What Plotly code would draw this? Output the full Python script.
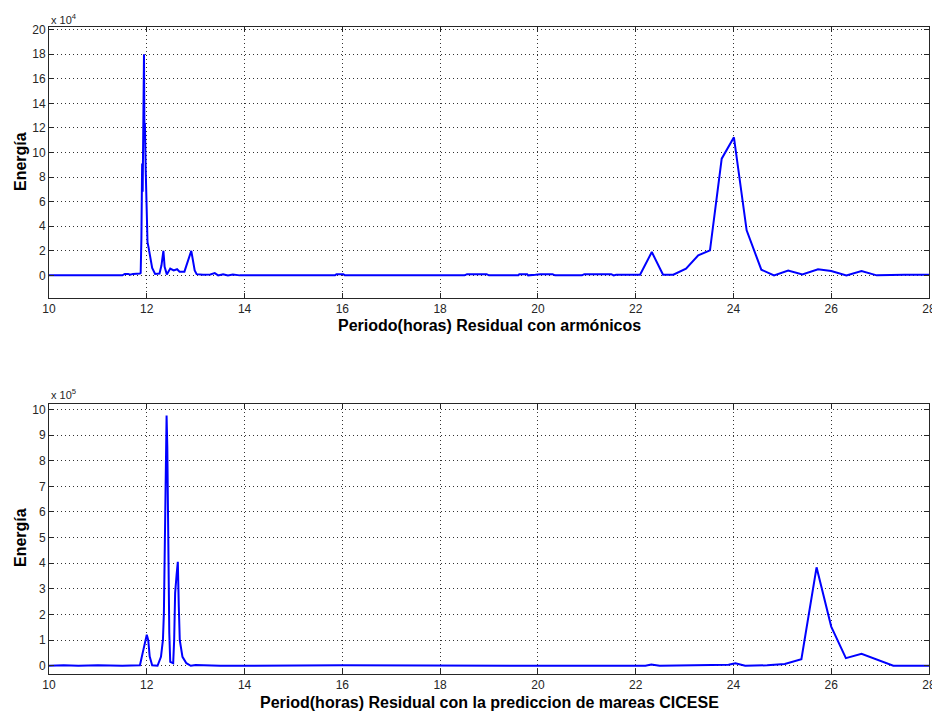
import plotly.graph_objects as go
from plotly.subplots import make_subplots

# Top panel: residual with harmonics (energy in units of 1e4)
top_period = [10.0, 11.5, 11.55, 11.62, 11.66, 11.72, 11.86, 11.875, 11.89, 11.905,
              11.916, 11.925, 11.932, 11.943, 11.952, 11.962, 11.978, 11.995, 12.015, 12.04,
              12.07, 12.11, 12.17, 12.26, 12.3, 12.34, 12.365, 12.41, 12.48, 12.55,
              12.62, 12.67, 12.77, 12.84, 12.91, 12.98, 13.02, 13.15, 13.3, 13.39,
              13.46, 13.56, 13.66, 13.76, 13.9, 15.85, 15.88, 16.02, 16.05, 18.5,
              18.55, 18.95, 19.0, 19.6, 19.62, 19.78, 19.8, 19.95, 20.05, 20.3,
              20.35, 20.9, 20.95, 21.5, 21.55, 21.6, 22.0, 22.09, 22.33, 22.56,
              22.77, 23.03, 23.28, 23.52, 23.76, 24.01, 24.27, 24.57, 24.83, 25.12,
              25.41, 25.73, 26.0, 26.31, 26.62, 26.93, 27.5, 28.0]
top_energy = [0.0, 0.0, 0.12, 0.12, 0.05, 0.12, 0.15, 0.2, 3.0, 9.1,
              6.8, 15.0, 11.5, 18.0, 11.6, 12.4, 8.6, 4.8, 2.7, 2.2,
              1.4, 0.6, 0.12, 0.15, 0.8, 2.0, 0.7, 0.08, 0.55, 0.4,
              0.5, 0.3, 0.3, 1.2, 2.0, 0.4, 0.1, 0.05, 0.08, 0.18,
              0.0, 0.08, 0.0, 0.06, 0.0, 0.0, 0.1, 0.1, 0.0, 0.0,
              0.1, 0.1, 0.0, 0.0, 0.1, 0.1, 0.0, 0.05, 0.1, 0.1,
              0.0, 0.0, 0.1, 0.1, 0.0, 0.05, 0.05, 0.05, 1.9, 0.05,
              0.05, 0.55, 1.63, 2.04, 9.5, 11.24, 3.67, 0.46, 0.0, 0.4,
              0.07, 0.5, 0.35, 0.0, 0.35, 0.0, 0.05, 0.05]

# Bottom panel: residual with CICESE tide prediction (energy in units of 1e5)
bot_period = [10.0, 10.3, 10.6, 11.0, 11.5, 11.86, 11.93, 12.0, 12.03, 12.06,
              12.11, 12.22, 12.29, 12.33, 12.35, 12.37, 12.385, 12.405, 12.42, 12.43,
              12.445, 12.46, 12.48, 12.54, 12.56, 12.58, 12.61, 12.635, 12.655, 12.675,
              12.73, 12.81, 12.9, 13.0, 13.5, 16.0, 20.0, 22.2, 22.32, 22.49,
              23.9, 24.04, 24.24, 24.69, 25.05, 25.39, 25.70, 26.0, 26.3, 26.62,
              27.27, 28.0]
bot_energy = [0.0, 0.02, 0.0, 0.02, 0.0, 0.02, 0.62, 1.21, 1.0, 0.36,
              0.02, 0.0, 0.35, 1.0, 2.05, 5.1, 8.15, 9.76, 8.54, 6.15,
              3.74, 1.3, 0.15, 0.1, 1.0, 2.84, 3.55, 4.06, 2.31, 1.0,
              0.35, 0.1, 0.0, 0.03, 0.0, 0.02, 0.0, 0.0, 0.05, 0.0,
              0.04, 0.1, 0.0, 0.02, 0.07, 0.26, 3.84, 1.53, 0.3, 0.47,
              0.0, 0.0]

x_ticks = [10, 12, 14, 16, 18, 20, 22, 24, 26, 28]
top_yticks = [0, 2, 4, 6, 8, 10, 12, 14, 16, 18, 20]
bot_yticks = [0, 1, 2, 3, 4, 5, 6, 7, 8, 9, 10]

fig = make_subplots(rows=2, cols=1)
fig.add_trace(go.Scatter(x=top_period, y=top_energy, mode="lines",
                         line=dict(color="#0000ff", width=2)), row=1, col=1)
fig.add_trace(go.Scatter(x=bot_period, y=bot_energy, mode="lines",
                         line=dict(color="#0000ff", width=2)), row=2, col=1)

axis_common = dict(showline=True, linecolor="#262626", linewidth=1, mirror="allticks",
                   ticks="inside", ticklen=5, tickcolor="#262626", automargin=False,
                   ticklabeloverflow="allow",
                   showgrid=True, gridcolor="#333333", griddash="1px,3px", gridwidth=1,
                   zeroline=False, tickfont=dict(size=12, color="#262626"))

fig.update_xaxes(range=[10, 28], tickvals=x_ticks, **axis_common)
fig.update_yaxes(**axis_common)
fig.update_yaxes(range=[-1.85, 20.22], tickvals=top_yticks, row=1, col=1)
fig.update_yaxes(range=[-0.32, 10.23], tickvals=bot_yticks, row=2, col=1)

fig.update_layout(
    width=932, height=711,
    margin=dict(l=49, r=3, t=27, b=37),
    plot_bgcolor="white", paper_bgcolor="white",
    showlegend=False,
    font=dict(family="Arial, Liberation Sans, sans-serif", color="#262626"),
    xaxis=dict(domain=[0, 1]),
    yaxis=dict(domain=[0.581, 1.0]),
    xaxis2=dict(domain=[0, 1]),
    yaxis2=dict(domain=[0.0, 0.418]),
)

bold = dict(size=16, color="#000000", family="Arial, Liberation Sans, sans-serif")
fig.add_annotation(text="<b>Periodo(horas) Residual con armónicos</b>", xref="paper", yref="paper",
                   x=0.5, y=(674 - 325) / 647, xanchor="center", yanchor="middle",
                   showarrow=False, font=bold)
fig.add_annotation(text="<b>Period(horas) Residual con la prediccion de mareas CICESE</b>",
                   xref="paper", yref="paper", x=0.5, y=(674 - 702) / 647,
                   xanchor="center", yanchor="middle", showarrow=False, font=bold)
fig.add_annotation(text="<b>Energía</b>", xref="paper", yref="paper",
                   x=(20 - 49) / 880, y=(674 - 162) / 647, xanchor="center", yanchor="middle",
                   textangle=-90, showarrow=False, font=bold)
fig.add_annotation(text="<b>Energía</b>", xref="paper", yref="paper",
                   x=(20 - 49) / 880, y=(674 - 538) / 647, xanchor="center", yanchor="middle",
                   textangle=-90, showarrow=False, font=bold)
fig.add_annotation(text="x 10<sup>4</sup>", xref="paper", yref="paper",
                   x=0.0, y=(674 - 19) / 647, xanchor="left", yanchor="middle",
                   showarrow=False, font=dict(size=11, color="#262626"))
fig.add_annotation(text="x 10<sup>5</sup>", xref="paper", yref="paper",
                   x=0.0, y=(674 - 394) / 647, xanchor="left", yanchor="middle",
                   showarrow=False, font=dict(size=11, color="#262626"))

fig.write_html("out.html", config={"displayModeBar": False},
               post_script="document.body.style.margin='0px';")
